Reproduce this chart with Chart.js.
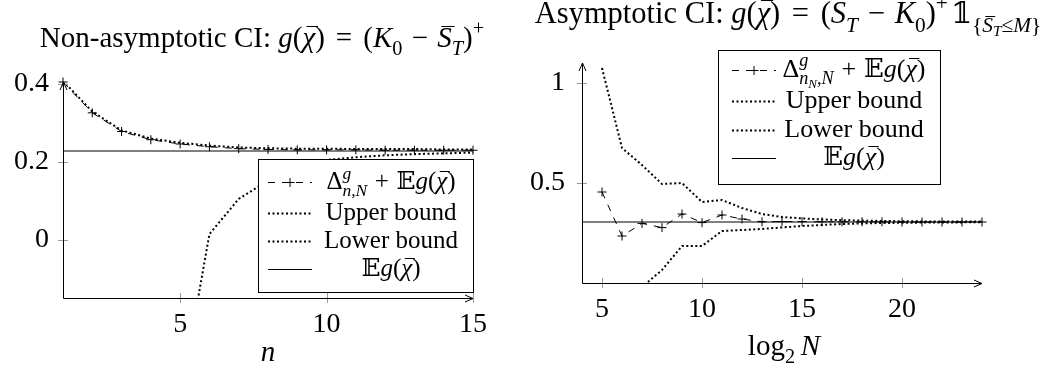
<!DOCTYPE html>
<html>
<head>
<meta charset="utf-8">
<script src="https://cdn.jsdelivr.net/npm/chart.js@4"></script>
<style>
  body { margin: 0; background: #fff; }
  #wrap { position: relative; width: 1055px; height: 367px; }
  canvas { position: absolute; top: 0; }
  #leftChart { left: 0; }
  #rightChart { left: 520px; }
</style>
</head>
<body>
<div id="wrap">
  <canvas id="leftChart" width="520" height="367"></canvas>
  <canvas id="rightChart" width="535" height="367"></canvas>
</div>
<script>
const FONT = "'Liberation Serif', 'DejaVu Serif', serif";

// left panel: non-asymptotic CI against n
const nValues = [1, 2, 3, 4, 5, 6, 7, 8, 9, 10, 11, 12, 13, 14, 15];
const deltaN = [0.405, 0.326, 0.278, 0.257, 0.246, 0.239, 0.234, 0.232, 0.231, 0.231, 0.231, 0.230, 0.230, 0.230, 0.230];
const upperN = [0.408, 0.329, 0.281, 0.260, 0.249, 0.242, 0.237, 0.235, 0.234, 0.234, 0.233, 0.233, 0.233, 0.232, 0.232];
const lowerN = [-6.0, -3.0, -1.6, -0.85, -0.41, 0.015, 0.105, 0.152, 0.183, 0.205, 0.212, 0.217, 0.220, 0.222, 0.224];
const expectN = 0.228;
const nRange = [1, 15];
const nYRange = [-0.149, 0.405];
const nTicks = [5, 10, 15];
const nYTicks = [0, 0.2, 0.4];

// right panel: asymptotic CI against log2 N
const logNValues = [5, 6, 7, 8, 9, 10, 11, 12, 13, 14, 15, 16, 17, 18, 19, 20, 21, 22, 23, 24];
const deltaLogN = [0.455, 0.235, 0.298, 0.277, 0.345, 0.302, 0.340, 0.320, 0.306, 0.307, 0.307, 0.306, 0.306, 0.306, 0.306, 0.305, 0.305, 0.305, 0.305, 0.305];
const upperLogN = [1.075, 0.675, 0.590, 0.495, 0.500, 0.405, 0.415, 0.375, 0.345, 0.330, 0.323, 0.318, 0.314, 0.312, 0.310, 0.309, 0.308, 0.308, 0.307, 0.307];
const lowerLogN = [-0.6, -0.3, -0.02, 0.065, 0.185, 0.185, 0.260, 0.265, 0.270, 0.278, 0.285, 0.290, 0.295, 0.298, 0.300, 0.301, 0.302, 0.303, 0.303, 0.304];
const expectLogN = 0.305;
const logNRange = [4, 24];
const logNYRange = [0, 1.1];
const logNTicks = [5, 10, 15, 20];
const logNYTicks = [0.5, 1];

// little math typesetter: segments are [text, flags], or [gap in em]
// flags: i italic, o overline, b sub, p sup, B sub of sub, k stack on previous segment
const LEVELS = { '': [1, 0], b: [0.7, 0.28], p: [0.7, -0.42], B: [0.5, 0.42] };

function drawMath(ctx, segs, x, y, size, align) {
  const items = [];
  let cx = 0, maxX = 0, prevStart = 0;
  segs.forEach(([t, f = '']) => {
    const lvl = f.includes('B') ? 'B' : f.includes('b') ? 'b' : f.includes('p') ? 'p' : '';
    const [sc, dy] = LEVELS[lvl];
    const s = size * sc;
    if (typeof t === 'number') {
      cx = maxX = Math.max(maxX, cx) + t * s;
      return;
    }
    const font = (f.includes('i') ? 'italic ' : '') + s + 'px ' + FONT;
    ctx.font = font;
    const w = ctx.measureText(t).width;
    let start;
    if (f.includes('k')) start = prevStart;
    else if (lvl === '') start = maxX;
    else start = cx;
    items.push({ t, font, x: start, dy: dy * size, w, s, bar: f.includes('o'), it: f.includes('i') });
    prevStart = start;
    cx = start + w;
    maxX = Math.max(maxX, cx);
  });
  const x0 = align === 'center' ? x - maxX / 2 : align === 'right' ? x - maxX : x;
  ctx.save();
  ctx.fillStyle = '#000';
  ctx.strokeStyle = '#000';
  ctx.textAlign = 'left';
  ctx.textBaseline = 'alphabetic';
  items.forEach(it => {
    ctx.font = it.font;
    ctx.fillText(it.t, x0 + it.x, y + it.dy);
    if (it.bar) {
      const yb = Math.round(y + it.dy - it.s * 0.74) + 0.5;
      const sh = it.it ? it.s * 0.1 : 0;
      ctx.lineWidth = 1;
      ctx.beginPath();
      ctx.moveTo(x0 + it.x + sh + it.s * 0.04, yb);
      ctx.lineTo(x0 + it.x + it.w + sh, yb);
      ctx.stroke();
    }
  });
  ctx.restore();
}

function line(ctx, x1, y1, x2, y2) {
  ctx.beginPath();
  ctx.moveTo(x1, y1);
  ctx.lineTo(x2, y2);
  ctx.stroke();
}

// pgfplots style axes: arrows, ticks across the axis line, titles and legend box
const pgfPlugin = {
  id: 'pgf',
  afterDatasetsDraw(chart, args, opts) {
    const { ctx, chartArea: a, scales: { x, y } } = chart;
    ctx.save();
    ctx.strokeStyle = '#999';
    ctx.lineWidth = 1;
    x.ticks.forEach(t => {
      const px = Math.round(x.getPixelForValue(t.value)) + 0.5;
      line(ctx, px, a.bottom - 5, px, a.bottom + 5);
    });
    y.ticks.forEach(t => {
      const py = Math.round(y.getPixelForValue(t.value)) + 0.5;
      line(ctx, a.left - 5, py, a.left + 5, py);
    });
    ctx.strokeStyle = '#000';
    const l = Math.round(a.left) + 0.5, b = Math.round(a.bottom) + 0.5;
    line(ctx, l, b, a.right, b);
    line(ctx, l, b, l, a.top);
    // arrow heads
    line(ctx, a.right - 8, b - 3.5, a.right, b);
    line(ctx, a.right - 8, b + 3.5, a.right, b);
    line(ctx, l - 3.5, a.top + 8, l, a.top);
    line(ctx, l + 3.5, a.top + 8, l, a.top);
    ctx.restore();
  },
  afterDraw(chart, args, opts) {
    const { ctx, chartArea: a } = chart;
    drawMath(ctx, opts.title, opts.titleX, opts.titleY, opts.titleSize, 'center');
    drawMath(ctx, opts.xTitle, (a.left + a.right) / 2 + opts.xTitleDx, opts.xTitleY, opts.xTitleSize, 'center');

    const lg = opts.legend;
    const bx = a.right + lg.dx - lg.width;
    const by = lg.top;
    ctx.save();
    ctx.fillStyle = '#fff';
    ctx.fillRect(bx, by, lg.width, lg.height);
    ctx.strokeStyle = '#000';
    ctx.lineWidth = 1;
    ctx.strokeRect(Math.round(bx) + 0.5, Math.round(by) + 0.5, lg.width, lg.height);
    lg.items.forEach((it, i) => {
      const base = by + lg.rows[i];
      const ly = Math.round(base - 7) + 0.5;
      const x1 = bx + lg.sampleX, x2 = x1 + lg.sampleW;
      ctx.save();
      ctx.strokeStyle = '#000';
      if (it.kind === 'dash') {
        ctx.lineWidth = 1;
        ctx.setLineDash([7, 7]);
        line(ctx, x1, ly, x2, ly);
        ctx.setLineDash([]);
        const mx = (x1 + x2) / 2;
        line(ctx, mx - 4.5, ly, mx + 4.5, ly);
        line(ctx, mx, ly - 4.5, mx, ly + 4.5);
      } else if (it.kind === 'dot') {
        ctx.lineWidth = 2;
        ctx.setLineDash([2, 2.5]);
        line(ctx, x1, ly, x2, ly);
      } else {
        ctx.lineWidth = 1;
        line(ctx, x1, ly, x2, ly);
      }
      ctx.restore();
      drawMath(ctx, it.label, bx + lg.textX, base, lg.size, 'center');
    });
    ctx.restore();
  }
};

function series(xs, ys) {
  return xs.map((v, i) => ({ x: v, y: ys[i] }));
}

function makeChart(id, cfg) {
  const tickFont = { family: FONT, size: 28 };
  return new Chart(document.getElementById(id), {
    type: 'line',
    data: {
      datasets: [
        {
          label: 'delta',
          data: series(cfg.xs, cfg.delta),
          borderColor: '#000',
          borderWidth: 1,
          borderDash: [7, 7],
          pointStyle: 'cross',
          pointRadius: 4.5,
          pointBorderColor: '#000',
          pointBorderWidth: 1,
          clip: 8
        },
        {
          label: 'Upper bound',
          data: series(cfg.xs, cfg.upper),
          borderColor: '#000',
          borderWidth: 2,
          borderDash: [2, 2.5],
          pointRadius: 0,
          clip: 0
        },
        {
          label: 'Lower bound',
          data: series(cfg.xs, cfg.lower),
          borderColor: '#000',
          borderWidth: 2,
          borderDash: [2, 2.5],
          pointRadius: 0,
          clip: 0
        },
        {
          label: 'E g',
          data: series(cfg.xRange, cfg.xRange.map(() => cfg.expect)),
          borderColor: '#000',
          borderWidth: 1,
          pointRadius: 0,
          clip: 0
        }
      ]
    },
    options: {
      responsive: false,
      animation: false,
      layout: { padding: cfg.padding },
      scales: {
        x: {
          type: 'linear',
          min: cfg.xRange[0],
          max: cfg.xRange[1],
          grid: { display: false, drawTicks: false },
          border: { display: false },
          ticks: { font: tickFont, color: '#000', padding: 10, maxRotation: 0, callback: v => String(v) },
          afterBuildTicks: s => { s.ticks = cfg.xTicks.map(v => ({ value: v })); },
          afterFit: s => { s.height = cfg.xAxisH; }
        },
        y: {
          type: 'linear',
          min: cfg.yRange[0],
          max: cfg.yRange[1],
          grid: { display: false, drawTicks: false },
          border: { display: false },
          ticks: { font: tickFont, color: '#000', padding: cfg.yPad, callback: v => String(v) },
          afterBuildTicks: s => { s.ticks = cfg.yTicks.map(v => ({ value: v })); },
          afterFit: s => { s.width = cfg.yAxisW; }
        }
      },
      plugins: {
        legend: { display: false },
        tooltip: { enabled: false },
        pgf: cfg.pgf
      }
    },
    plugins: [pgfPlugin]
  });
}

const chiBar = [['g', 'i'], ['(', ''], ['χ', 'io'], [')', '']];
const eq = [[0.38], ['=', ''], [0.38]];
const minus = [[0.32], ['−', ''], [0.32]];
const plus = [[0.3], ['+', ''], [0.3]];
const legendRest = plus.concat([['𝔼', '']], chiBar);

makeChart('leftChart', {
  xs: nValues, delta: deltaN, upper: upperN, lower: lowerN, expect: expectN,
  xRange: nRange, yRange: nYRange, xTicks: nTicks, yTicks: nYTicks,
  padding: { top: 82, right: 47, left: 0, bottom: 0 },
  xAxisH: 69, yAxisW: 63, yPad: 14,
  pgf: {
    title: [['Non-asymptotic CI: ', '']].concat(chiBar, eq, [['(', ''], ['K', 'i'], ['0', 'b']], minus,
      [['S', 'io'], ['T', 'ib'], [')', ''], ['+', 'p']]),
    titleX: 262, titleY: 47, titleSize: 29,
    xTitle: [['n', 'i']], xTitleDx: 0, xTitleY: 361, xTitleSize: 29,
    legend: {
      dx: 0, top: 159, width: 215, height: 133,
      rows: [30, 61, 89, 117], sampleX: 10, sampleW: 44, textX: 133, size: 25,
      items: [
        { kind: 'dash', label: [['Δ', ''], ['g', 'ip'], ['n,N', 'ibk']].concat(legendRest) },
        { kind: 'dot', label: [['Upper bound', '']] },
        { kind: 'dot', label: [['Lower bound', '']] },
        { kind: 'solid', label: [['𝔼', '']].concat(chiBar) }
      ]
    }
  }
});

makeChart('rightChart', {
  xs: logNValues, delta: deltaLogN, upper: upperLogN, lower: lowerLogN, expect: expectLogN,
  xRange: logNRange, yRange: logNYRange, xTicks: logNTicks, yTicks: logNYTicks,
  padding: { top: 63, right: 73, left: 0, bottom: 0 },
  xAxisH: 84, yAxisW: 62, yPad: 17,
  pgf: {
    title: [['Asymptotic CI: ', '']].concat(chiBar, eq, [['(', ''], ['S', 'i'], ['T', 'ib']], minus,
      [['K', 'i'], ['0', 'b'], [')', ''], ['+', 'p'], [0.1], ['𝟙', ''], ['{', 'b'], ['S', 'ibo'], ['T', 'iB'], ['≤', 'b'], ['M', 'ib'], ['}', 'b']]),
    titleX: 268, titleY: 23, titleSize: 30.5,
    xTitle: [['log', ''], ['2', 'b'], [0.2], ['N', 'i']], xTitleDx: 2, xTitleY: 355, xTitleSize: 29,
    legend: {
      dx: -42, top: 50, width: 222, height: 134,
      rows: [27, 58, 87, 115], sampleX: 14, sampleW: 44, textX: 136, size: 26,
      items: [
        { kind: 'dash', label: [['Δ', ''], ['g', 'ip'], ['n', 'ibk'], ['N', 'iB'], [',N', 'ib']].concat(legendRest) },
        { kind: 'dot', label: [['Upper bound', '']] },
        { kind: 'dot', label: [['Lower bound', '']] },
        { kind: 'solid', label: [['𝔼', '']].concat(chiBar) }
      ]
    }
  }
});
</script>
</body>
</html>
